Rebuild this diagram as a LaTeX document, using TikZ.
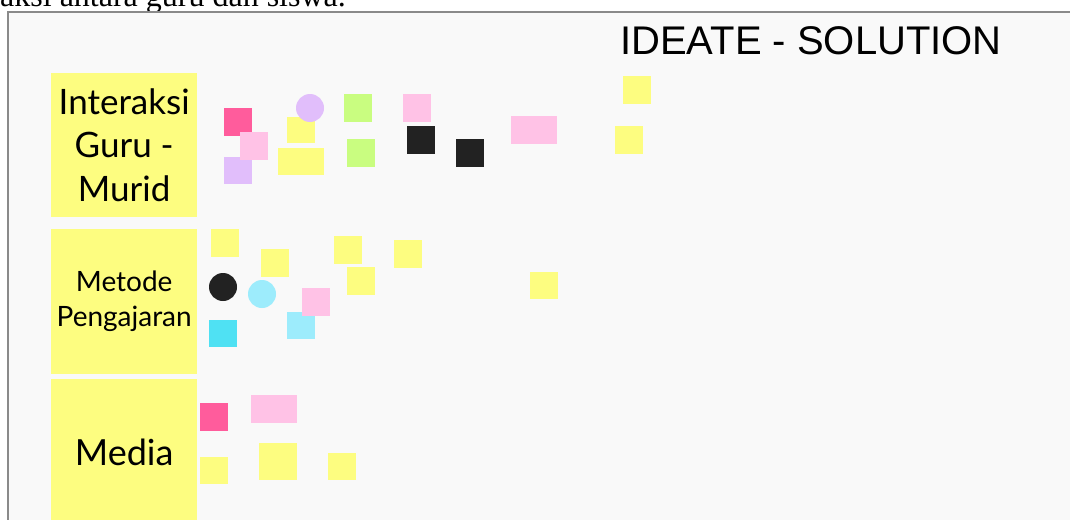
\documentclass[tikz,border=0pt]{standalone}
\usepackage{fontspec}
\setmainfont{Lato}
\newfontfamily\titlefont{Liberation Sans}
\newfontfamily\pagefont{Liberation Serif}
\usepackage{tikz}
\usetikzlibrary{positioning}
\definecolor{boardbg}{RGB}{249, 249, 249}
\definecolor{boardline}{RGB}{138, 138, 138}
\definecolor{stickyyellow}{RGB}{253, 253, 128}
\definecolor{hotpink}{RGB}{255, 92, 156}
\definecolor{softpink}{RGB}{255, 194, 230}
\definecolor{lavender}{RGB}{225, 190, 251}
\definecolor{limegreen}{RGB}{201, 253, 128}
\definecolor{inkblack}{RGB}{34, 34, 34}
\definecolor{deepcyan}{RGB}{79, 225, 243}
\definecolor{softcyan}{RGB}{157, 236, 252}

\begin{document}
\begin{tikzpicture}[x=1pt, y=-1pt,
    sticky/.style={rectangle, anchor=north west, inner sep=0pt, outer sep=0pt},
    dot/.style={circle, inner sep=0pt, minimum size=28pt},
    labelbox/.style={fill=stickyyellow, anchor=north west, inner sep=0pt,
                     minimum width=146pt, align=center}]
    \fill[white] (0,0) rectangle (1070,519);
    \useasboundingbox (0,0) rectangle (1070,519);
    % Page text above the board
    \node[anchor=base west, inner sep=0pt, font=\pagefont\fontsize{32}{36}\selectfont]
        (pagetext) at (0,7) {aksi antara guru dan siswa.};
    % Board
    \draw[boardline, line width=1.5pt, fill=boardbg] (8,12) rectangle (1085,535);
    % Title
    \node[anchor=base west, inner sep=0pt, font=\titlefont\fontsize{40}{44}\selectfont]
        (title) at (620,55) {IDEATE - SOLUTION};
    % Row labels
    \node[labelbox, minimum height=144pt, font=\fontsize{35}{43.5}\selectfont]
        (intBox) at (51,73) {Interaksi\\Guru -\\Murid};
    \node[labelbox, minimum height=145pt, font=\fontsize{28}{35}\selectfont]
        (metBox) at (51,229) {Metode\\Pengajaran};
    \node[labelbox, minimum height=146pt, font=\fontsize{36}{40}\selectfont]
        (medBox) at (51,379) {Media};
    % Yellow stickies
    \foreach \x/\y/\w/\h [count=\i] in {623/76/27.5/27.5, 615/126/27.5/27.5,
        287/117/28/26, 278/148/46/27, 211/229/27.5/28, 261/249/27.5/28,
        334/236/27.5/27.5, 347/267/27.5/28, 394/240/27.5/28, 530/272/27.5/27,
        200/457/28/27, 259/443/38/37, 328/453/27.5/27} {
        \node[sticky, fill=stickyyellow, minimum width=\w pt, minimum height=\h pt]
            (yel\i) at (\x,\y) {};
    }
    % Pink, cyan and violet stickies
    \foreach \x/\y [count=\i] in {224/108, 200/403} {
        \node[sticky, fill=hotpink, minimum width=28pt, minimum height=27.5pt]
            (hot\i) at (\x,\y) {};
    }
    \node[sticky, fill=softcyan, minimum width=28pt, minimum height=27pt]
        (cyanSq) at (287,312) {};
    \node[sticky, fill=lavender, minimum width=28pt, minimum height=27pt]
        (lavSq) at (224,157) {};
    \foreach \x/\y/\w [count=\i] in {240/132/28, 403/94/28, 511/116/46,
        302/288/28, 251/395/46} {
        \node[sticky, fill=softpink, minimum width=\w pt, minimum height=28pt]
            (pink\i) at (\x,\y) {};
    }
    \foreach \x/\y [count=\i] in {344/94, 347/139} {
        \node[sticky, fill=limegreen, minimum width=28pt, minimum height=28pt]
            (lime\i) at (\x,\y) {};
    }
    \foreach \x/\y [count=\i] in {407/126, 456/139} {
        \node[sticky, fill=inkblack, minimum width=28pt, minimum height=27.5pt]
            (blk\i) at (\x,\y) {};
    }
    \node[sticky, fill=deepcyan, minimum width=28pt, minimum height=27pt]
        (cyanDeep) at (209,320) {};
    % Dots
    \node[dot, fill=lavender] (lavDot) at (310,108) {};
    \node[dot, fill=inkblack] (blkDot) at (223,287) {};
    \node[dot, fill=softcyan] (cyanDot) at (262,294) {};
\end{tikzpicture}
\end{document}
